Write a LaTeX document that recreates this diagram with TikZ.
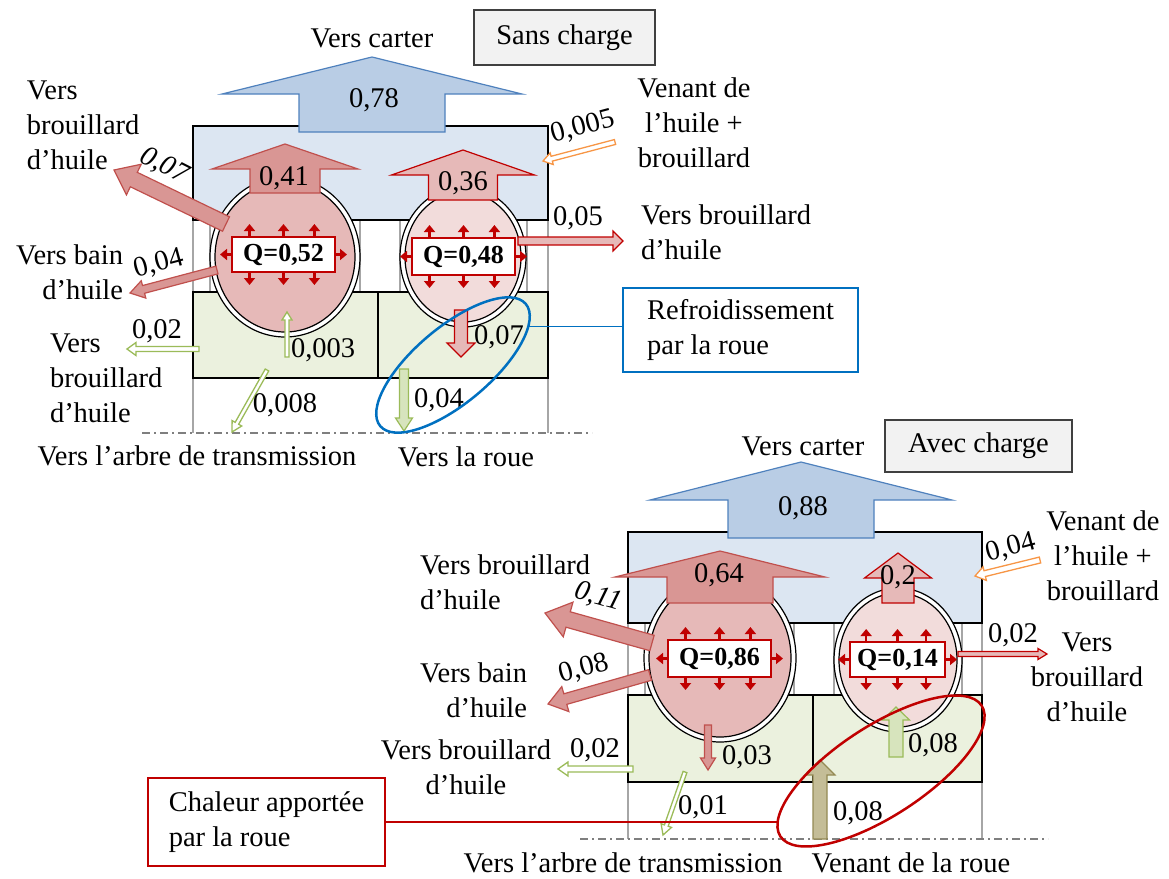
\documentclass[tikz,border=0pt]{standalone}
\usepackage{fontspec}
\setmainfont{Liberation Serif}
\usetikzlibrary{arrows.meta, shapes.geometric, calc}

\definecolor{housingblue}{HTML}{DCE6F2}
\definecolor{carterblue}{HTML}{B9CDE5}
\definecolor{carteredge}{HTML}{4F81BD}
\definecolor{shaftgreen}{HTML}{EBF1DE}
\definecolor{leafgreen}{HTML}{9BBB59}
\definecolor{palegreen}{HTML}{D7E4BD}
\definecolor{rosedark}{HTML}{D99694}
\definecolor{roseedge}{HTML}{C0504D}
\definecolor{rosemid}{HTML}{E6B9B8}
\definecolor{roselight}{HTML}{F2DCDB}
\definecolor{qred}{HTML}{C00000}
\definecolor{oilorange}{HTML}{F79646}
\definecolor{wheelkhaki}{HTML}{C4BD97}
\definecolor{wheeledge}{HTML}{948A54}
\definecolor{coolblue}{HTML}{0070C0}
\definecolor{seatgray}{HTML}{A6A6A6}
\definecolor{axisgray}{HTML}{7F7F7F}
\definecolor{boxgray}{HTML}{F2F2F2}

\newcommand{\txtsize}{\fontsize{28.5}{35}\selectfont}

% block arrow: [style]{x1}{y1}{x2}{y2}{shaft width}{head width}{head length}
\newcommand{\heatarrow}[8][]{%
  \pgfmathsetmacro\arrang{atan2(#3-#5,#4-#2)}%
  \pgfmathsetmacro\arrlen{veclen(#4-#2,#5-#3)}%
  \begin{scope}[shift={(#2,#3)}, rotate=\arrang]
    \draw[#1] (0,-#6/2) -- (\arrlen-#8,-#6/2) -- (\arrlen-#8,-#7/2) -- (\arrlen,0)
      -- (\arrlen-#8,#7/2) -- (\arrlen-#8,#6/2) -- (0,#6/2) -- cycle;
  \end{scope}}

% small red rays around a Q box
\newcommand{\heatrays}[1]{%
  \foreach \f in {0.17,0.5,0.8} {
    \draw[qtick] ($(#1.north west)!\f!(#1.north east)$) -- ++(0,-13);
    \draw[qtick] ($(#1.south west)!\f!(#1.south east)$) -- ++(0,13);
  }
  \draw[qtick] (#1.west) -- ++(-12,0);
  \draw[qtick] (#1.east) -- ++(12,0);}

\begin{document}
\begin{tikzpicture}[x=1pt, y=-1pt,
    every node/.style={inner sep=0pt, outer sep=0pt, font=\txtsize},
    seatline/.style={draw=seatgray, line width=1.2pt},
    wall/.style={draw=black, line width=1.2pt},
    axisline/.style={draw=axisgray, line width=1.2pt, dash pattern=on 8pt off 4pt on 2pt off 4pt},
    carterflow/.style={draw=carteredge, fill=carterblue, line width=1.2pt},
    hotflow/.style={draw=roseedge, fill=rosedark, line width=1.2pt},
    warmflow/.style={draw=qred, fill=rosemid, line width=1.2pt},
    greenflow/.style={draw=leafgreen, fill=white, line width=1.3pt},
    greenfill/.style={draw=leafgreen, fill=palegreen, line width=1.2pt},
    oilflow/.style={draw=oilorange, fill=white, line width=1.3pt},
    wheelflow/.style={draw=wheeledge, fill=wheelkhaki, line width=1.2pt},
    qbox/.style={draw=qred, fill=white, line width=1.5pt, font=\fontsize{26}{30}\selectfont\bfseries},
    qtick/.style={draw=qred, line width=2.5pt, -{Triangle[length=7pt,width=11pt]}},
    tagbox/.style={draw=black!75, fill=boxgray, line width=1.2pt},
    slanted/.style={font=\txtsize\itshape}]

    % Fix the page to the size of the reference
    \useasboundingbox (0,0) rectangle (1169,878);

    % ---------- Sans charge ----------
    % Draw the housing edges and the bearing seats
    \foreach \x in {193,548} \draw[seatline] (\x,220) -- (\x,433);
    \foreach \x in {210,360,400,527} \draw[seatline] (\x,220) -- (\x,292);
    \draw[wall, fill=housingblue] (193,126) rectangle (548,220);
    \draw[wall, fill=shaftgreen] (193,292) rectangle (378,378);
    \draw[wall, fill=shaftgreen] (378,292) rectangle (548,378);
    \draw[axisline] (142,433) -- (592,433);

    % ---------- Avec charge ----------
    \foreach \x in {628,982} \draw[seatline] (\x,623) -- (\x,839);
    \foreach \x in {645,794,834,962} \draw[seatline] (\x,623) -- (\x,695);
    \draw[wall, fill=housingblue] (628,532) rectangle (982,623);
    \draw[wall, fill=shaftgreen] (628,695) rectangle (813,782);
    \draw[wall, fill=shaftgreen] (813,695) rectangle (982,782);
    \draw[axisline] (580,839) -- (1048,839);

    % Add the bearings: outer ring and inner disc
    \foreach \cx/\cy/\rx/\ry/\irx/\iry/\tint in
      {285/257/75pt/80pt/70pt/75pt/rosemid, 463/257/63pt/70pt/58pt/65pt/roselight,
       720/658/76pt/84pt/71pt/79pt/rosemid, 898/660/64pt/72pt/59pt/67pt/roselight} {
        \draw[wall, fill=white] (\cx,\cy) ellipse [x radius=\rx, y radius=\ry];
        \draw[wall, fill=\tint] (\cx,\cy) ellipse [x radius=\irx, y radius=\iry];
    }

    % Flows towards the carter (top)
    \heatarrow[carterflow]{372}{132}{372}{57}{146}{300}{37}
    \node (v78) at (374,100) {0,78};
    \heatarrow[hotflow]{285}{193}{285}{144}{70}{146}{25}
    \node (v41) at (284,178) {0,41};
    \heatarrow[warmflow]{463}{200}{463}{150}{69}{143}{25}
    \node (v36) at (463,183) {0,36};

    % Heat sources in the bearings (top)
    \node[qbox, minimum width=103pt, minimum height=35pt] (q52) at (283.5,254.5) {Q=0,52};
    \node[qbox, minimum width=103pt, minimum height=37pt] (q48) at (463.5,256.5) {Q=0,48};
    \heatrays{q52}
    \heatrays{q48}

    % Side flows (top)
    \heatarrow[hotflow]{226}{224}{114}{170}{16}{34}{22}
    \node[slanted, rotate=-27] (v07a) at (164,166) {0,07};
    \heatarrow[hotflow]{217}{270}{130}{293}{8}{18}{14}
    \node[rotate=15] (v04a) at (159,264) {0,04};
    \heatarrow[warmflow]{518}{241}{623}{241}{8}{20}{10}
    \node (v05) at (578,218) {0,05};
    \heatarrow[oilflow]{615}{142}{543}{161}{5}{12}{9}
    \node[rotate=15] (v005) at (583,127) {0,005};
    \heatarrow[greenflow]{199}{349}{127}{349}{5}{13}{9}
    \node (v02a) at (157,331) {0,02};
    \heatarrow[greenflow]{287}{357}{287}{312}{4}{10}{8}
    \node[anchor=west] (v003) at (291,350) {0,003};
    \heatarrow[greenflow]{267}{370}{232}{432}{4}{11}{10}
    \node (v008) at (285,405) {0,008};
    \heatarrow[greenfill]{404}{369}{404}{431}{9}{17}{13}
    \node (v04b) at (439,400) {0,04};
    \heatarrow[warmflow]{461}{310}{461}{357}{13}{28}{14}
    \node (v07b) at (499,337) {0,07};

    % Texts (top)
    \node (carter1) at (372,38) {Vers carter};
    \node[tagbox, minimum width=181pt, minimum height=55pt] (sans) at (564.5,37.5) {Sans charge};
    \node[anchor=west, align=left] (mist1) at (27,125) {Vers\\brouillard\\d’huile};
    \node[anchor=east, align=right] (bath1) at (123,272) {Vers bain\\d’huile};
    \node[anchor=west, align=left] (mist2) at (50,378) {Vers\\brouillard\\d’huile};
    \node[align=center] (oil1) at (694,123) {Venant de\\l’huile +\\brouillard};
    \node[anchor=west, align=left] (mist3) at (641,232) {Vers brouillard\\d’huile};
    \node (shaft1) at (197,456) {Vers l’arbre de transmission};
    \node (wheel1) at (466,457) {Vers la roue};

    % Cooling by the wheel
    \node[ellipse, draw=coolblue, line width=2.5pt, minimum width=190pt, minimum height=76pt, rotate=40] (cool) at (453,365) {};
    \node[draw=coolblue, line width=1.5pt, fill=white, minimum width=235pt,
          minimum height=84pt, align=left] (refroid) at (740.5,330) {Refroidissement\\par la roue};
    \draw[coolblue, line width=1.5pt] (cool.-13) -- (cool.-13 -| refroid.west);

    % Flows towards the carter (bottom)
    \heatarrow[carterflow]{801}{538}{801}{462}{146}{302}{38}
    \node (v88) at (803,508) {0,88};
    \heatarrow[hotflow]{720}{603}{720}{551}{106}{210}{26}
    \node (v64) at (719,575) {0,64};
    \heatarrow[warmflow]{898}{603}{898}{553}{32}{67}{25}
    \node (v2) at (898,577) {0,2};

    % Heat sources in the bearings (bottom)
    \node[qbox, minimum width=103pt, minimum height=37pt] (q86) at (719.5,658.5) {Q=0,86};
    \node[qbox, minimum width=95pt, minimum height=35pt] (q14) at (897.5,659.5) {Q=0,14};
    \heatrays{q86}
    \heatrays{q14}

    % Side flows (bottom)
    \heatarrow[hotflow]{652}{643}{545}{613}{16}{36}{24}
    \node[slanted, rotate=-16] (v11) at (598,597) {0,11};
    \heatarrow[hotflow]{650}{675}{548}{704}{11}{26}{18}
    \node[rotate=15] (v08a) at (584,669) {0,08};
    \heatarrow[greenflow]{633}{769}{558}{769}{6}{14}{10}
    \node (v02b) at (595,750) {0,02};
    \heatarrow[hotflow]{708}{725}{708}{770}{7}{15}{12}
    \node (v03) at (747,757) {0,03};
    \heatarrow[greenflow]{685}{772}{663}{835}{4}{11}{10}
    \node (v01) at (703,807) {0,01};
    \heatarrow[wheelflow]{820}{839}{820}{760}{14}{30}{15}
    \node (v08b) at (858,813) {0,08};
    \heatarrow[greenfill]{896}{757}{896}{707}{14}{27}{13}
    \node (v08c) at (933,745) {0,08};
    \heatarrow[warmflow]{958}{654}{1047}{654}{5}{11}{9}
    \node (v02c) at (1013,635) {0,02};
    \heatarrow[oilflow]{1040}{560}{975}{576}{6}{14}{10}
    \node[rotate=15] (v04c) at (1011,548) {0,04};

    % Texts (bottom)
    \node (carter2) at (803,446) {Vers carter};
    \node[tagbox, minimum width=187pt, minimum height=52pt] (avec) at (978.5,446) {Avec charge};
    \node[anchor=west, align=left] (mist4) at (420,582) {Vers brouillard\\d’huile};
    \node[anchor=east, align=right] (bath2) at (527,690) {Vers bain\\d’huile};
    \node[align=center] (mist5) at (466,767) {Vers brouillard\\d’huile};
    \node[align=center] (mist6) at (1087,677) {Vers\\brouillard\\d’huile};
    \node[align=center] (oil2) at (1103,556) {Venant de\\l’huile +\\brouillard};
    \node (shaft2) at (623,863) {Vers l’arbre de transmission};
    \node (wheel2) at (911,863) {Venant de la roue};

    % Heat brought by the wheel
    \node[ellipse, draw=qred, line width=2.5pt, minimum width=240pt, minimum height=90pt, rotate=33] (hot) at (881,771) {};
    \node[draw=qred, line width=1.5pt, fill=white, minimum width=237pt,
          minimum height=88pt, align=left] (chaleur) at (266.5,822) {Chaleur apportée\\par la roue};
    \draw[qred, line width=1.5pt] (chaleur.east) -- (chaleur.east -| hot.172);
\end{tikzpicture}
\end{document}
